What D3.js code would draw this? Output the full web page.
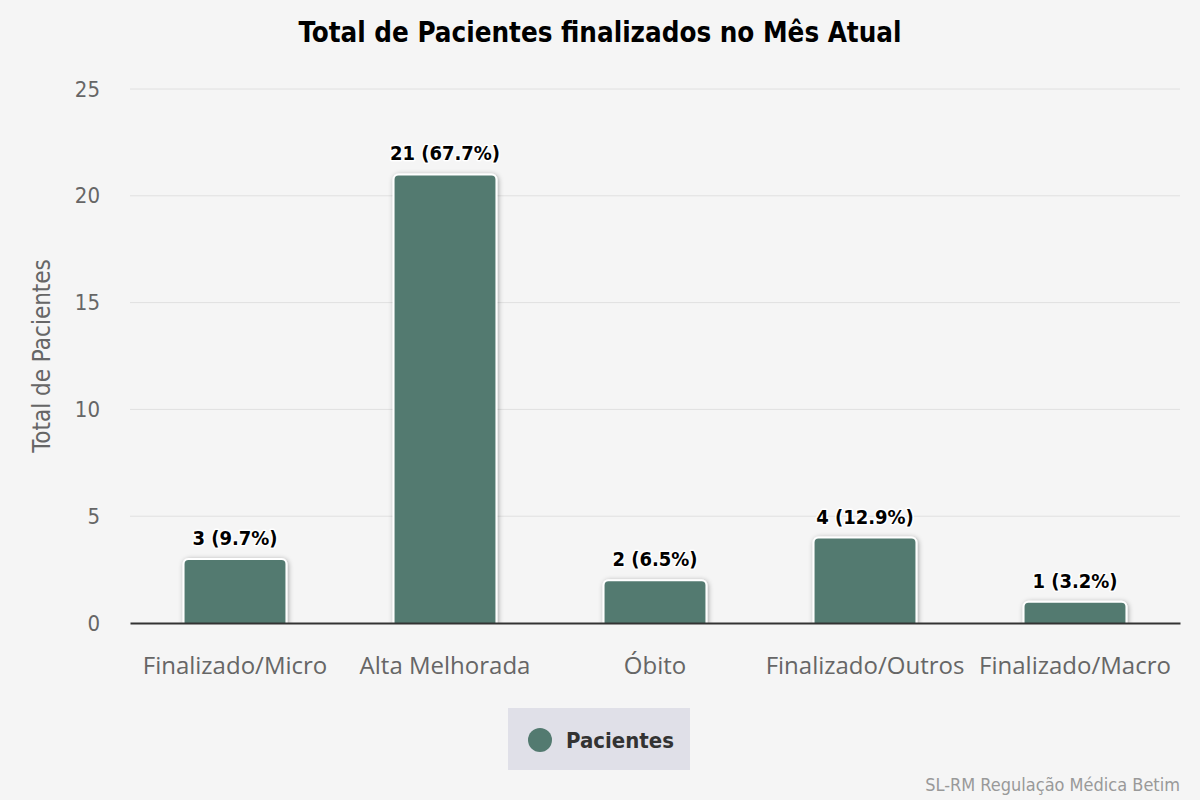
<!DOCTYPE html>
<html>
<head>
<meta charset="utf-8">
<script src="https://cdn.jsdelivr.net/npm/d3@7"></script>
<style>
  body { margin: 0; background: #f5f5f5; }
  svg { display: block; font-family: "DejaVu Sans Condensed", "DejaVu Sans", sans-serif; }
</style>
</head>
<body>
<div id="chart"></div>
<script>
var categories = ["Finalizado/Micro", "Alta Melhorada", "Óbito", "Finalizado/Outros", "Finalizado/Macro"];
var values = [3, 21, 2, 4, 1];
var percents = ["9.7%", "67.7%", "6.5%", "12.9%", "3.2%"];
var yTicks = [0, 5, 10, 15, 20, 25];

var W = 1200, H = 800;
var margin = { top: 89, right: 20, bottom: 177, left: 130 },
  width = W - margin.left - margin.right,
  height = H - margin.top - margin.bottom;

var barColor = "#537a70";

var svg = d3.select("#chart")
  .append("svg")
  .attr("width", W)
  .attr("height", H);

svg.append("rect").attr("width", W).attr("height", H).attr("fill", "#f5f5f5");

var defs = svg.append("defs");
var f = defs.append("filter").attr("id", "shadow")
  .attr("x", "-20%").attr("y", "-20%").attr("width", "140%").attr("height", "140%");
f.append("feDropShadow")
  .attr("dx", 1).attr("dy", 1).attr("stdDeviation", 2.5)
  .attr("flood-color", "#000").attr("flood-opacity", 0.35);

svg.append("text")
  .attr("x", W / 2).attr("y", 42)
  .attr("text-anchor", "middle")
  .attr("font-size", 27.5).attr("font-weight", "bold")
  .attr("fill", "#000")
  .text("Total de Pacientes finalizados no Mês Atual");

var g = svg.append("g")
  .attr("transform", "translate(" + margin.left + "," + margin.top + ")");

var x = d3.scaleBand()
  .domain(categories)
  .range([0, width])
  .paddingInner(0.51)
  .paddingOuter(0.255);

var y = d3.scaleLinear()
  .domain([0, 25])
  .range([height, 0]);

// grid
g.append("g")
  .selectAll("line")
  .data(yTicks.filter(function(d) { return d > 0; }))
  .enter().append("line")
  .attr("x1", 0).attr("x2", width)
  .attr("y1", function(d) { return y(d); })
  .attr("y2", function(d) { return y(d); })
  .attr("stroke", "#e0e0e0").attr("stroke-width", 1);

// y axis
var yAxis = g.append("g")
  .call(d3.axisLeft(y).tickValues(yTicks).tickSize(0).tickPadding(30))
  .attr("font-family", null).attr("font-size", null);
yAxis.select(".domain").remove();
yAxis.selectAll("text")
  .attr("font-size", 22).attr("fill", "#666");

svg.append("text")
  .attr("transform", "translate(50," + (margin.top + height / 2) + ") rotate(-90)")
  .attr("text-anchor", "middle")
  .attr("font-size", 24).attr("fill", "#666")
  .text("Total de Pacientes");

// bars
g.selectAll(".bar")
  .data(values)
  .enter().append("rect")
  .attr("class", "bar")
  .attr("x", function(d, i) { return x(categories[i]); })
  .attr("y", function(d) { return y(d); })
  .attr("width", x.bandwidth())
  .attr("height", function(d) { return height - y(d) + 5; })
  .attr("rx", 5)
  .attr("fill", barColor)
  .attr("stroke", "#fff").attr("stroke-width", 2)
  .attr("filter", "url(#shadow)");

// cover bottom rounded part below axis
g.append("rect")
  .attr("x", -2).attr("y", height + 1)
  .attr("width", width + 4).attr("height", 12)
  .attr("fill", "#f5f5f5");

// x axis
var xAxis = g.append("g")
  .attr("transform", "translate(0," + height + ")")
  .call(d3.axisBottom(x).tickSize(0).tickPadding(34))
  .attr("font-family", "'Open Sans', sans-serif").attr("font-size", null);
xAxis.select(".domain").attr("stroke", "#333").attr("stroke-width", 2);
xAxis.selectAll("text")
  .attr("font-size", 24).attr("fill", "#666");

// data labels
g.selectAll(".label")
  .data(values)
  .enter().append("text")
  .attr("class", "label")
  .attr("x", function(d, i) { return x(categories[i]) + x.bandwidth() / 2; })
  .attr("y", function(d) { return y(d) - 14; })
  .attr("text-anchor", "middle")
  .attr("font-size", 20).attr("font-weight", "bold")
  .attr("fill", "#000")
  .attr("stroke", "#fff").attr("stroke-width", 3).attr("paint-order", "stroke")
  .attr("stroke-linejoin", "round")
  .text(function(d, i) { return d + " (" + percents[i] + ")"; });

// legend
var legend = svg.append("g");
legend.append("rect")
  .attr("x", 508).attr("y", 708).attr("width", 182).attr("height", 62)
  .attr("fill", "#e0e0e8");
legend.append("circle")
  .attr("cx", 540).attr("cy", 740).attr("r", 12)
  .attr("fill", barColor);
legend.append("text")
  .attr("x", 566).attr("y", 748)
  .attr("font-size", 22).attr("font-weight", "bold").attr("fill", "#333")
  .text("Pacientes");

// credits
svg.append("text")
  .attr("x", 1180).attr("y", 791)
  .attr("text-anchor", "end")
  .attr("font-size", 18).attr("fill", "#999")
  .text("SL-RM Regulação Médica Betim");
</script>
</body>
</html>
